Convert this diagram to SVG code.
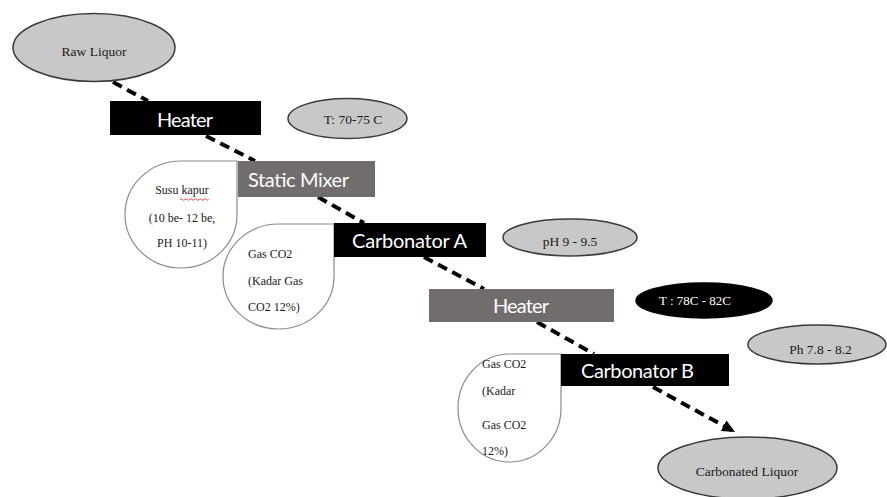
<svg xmlns="http://www.w3.org/2000/svg" width="887" height="497" viewBox="0 0 887 497">
<style>
.bg{fill:#ffffff}
.oval{fill:#c8c8c8;stroke:#3a3a3a;stroke-width:1.5}
.ovalk{fill:#000;stroke:#000;stroke-width:1.5}
.drop{fill:#fff;stroke:#8a8a8a;stroke-width:1.2}
.boxk{fill:#000}
.boxg{fill:#716d6c}
.lbl{font-family:Lato,"Open Sans","Liberation Sans",sans-serif;font-size:20px;fill:#fff;text-anchor:middle}
.sm{font-family:"Liberation Serif","DejaVu Serif",serif;font-size:13.5px;fill:#1a1a1a;text-anchor:middle}
.smw{font-family:"Liberation Serif","DejaVu Serif",serif;font-size:13px;fill:#fff;text-anchor:middle}
.dt{font-family:"Liberation Serif","DejaVu Serif",serif;font-size:12px;fill:#1a1a1a}
.dtc{text-anchor:middle}
.con{stroke:#000;stroke-width:4;stroke-dasharray:10,6;fill:none}
</style>
<defs>
<marker id="ah" markerWidth="14" markerHeight="12" refX="13" refY="6" orient="auto" markerUnits="userSpaceOnUse" viewBox="0 0 14 12">
<path d="M0,0 L13,6 L0,12 z" fill="#000"/>
</marker>
</defs>
<rect class="bg" x="0" y="0" width="887" height="497"/>

<g id="connectors">
<line class="con" x1="113" y1="82" x2="148" y2="101"/>
<line class="con" x1="206" y1="136" x2="255" y2="161"/>
<line class="con" x1="318" y1="197" x2="364" y2="223"/>
<line class="con" x1="424" y1="257" x2="484" y2="289"/>
<line class="con" x1="537" y1="322" x2="594" y2="354"/>
<line class="con" x1="653" y1="387" x2="735" y2="432" marker-end="url(#ah)"/>
</g>

<g id="raw-liquor">
<ellipse class="oval" cx="94" cy="47.5" rx="81" ry="34"/>
<text class="sm" x="94" y="56">Raw Liquor</text>
</g>

<g id="susu-kapur">
<path class="drop" d="M125 214.5 A56 53.5 0 0 1 181 161 L237 161 L237 214.5 A56 53.5 0 0 1 181 268 A56 53.5 0 0 1 125 214.5 Z"/>
<text class="dt dtc" x="182" y="194">Susu kapur</text>
<path d="M180 199.5 q1.2 -1.5 2.4 0 t2.4 0 t2.4 0 t2.4 0 t2.4 0 t2.4 0 t2.4 0 t2.4 0 t2.4 0 t2.4 0 t2.4 0 t2.4 0" fill="none" stroke="#e0303a" stroke-width="0.9"/>
<text class="dt dtc" x="182" y="222">(10 be- 12 be,</text>
<text class="dt dtc" x="182" y="247">PH 10-11)</text>
</g>

<g id="gas-co2-a">
<path class="drop" d="M223 276.5 A55.5 52.5 0 0 1 278.5 224 L334 224 L334 276.5 A55.5 52.5 0 0 1 278.5 329 A55.5 52.5 0 0 1 223 276.5 Z"/>
<text class="dt" x="248" y="258">Gas CO2</text>
<text class="dt" x="248" y="285">(Kadar Gas</text>
<text class="dt" x="248" y="311">CO2 12%)</text>
</g>

<g id="gas-co2-b">
<path class="drop" d="M458 408 A51.5 54 0 0 1 509.5 354 L561 354 L561 408 A51.5 54 0 0 1 509.5 462 A51.5 54 0 0 1 458 408 Z"/>
<text class="dt" x="482" y="368">Gas CO2</text>
<text class="dt" x="482" y="395">(Kadar</text>
<text class="dt" x="482" y="429">Gas CO2</text>
<text class="dt" x="482" y="455">12%)</text>
</g>

<g id="heater-1">
<rect class="boxk" x="110" y="101" width="151" height="34"/>
<text class="lbl" x="185" y="127" textLength="56">Heater</text>
</g>

<g id="temp-1">
<ellipse class="oval" cx="347.5" cy="118.5" rx="59.5" ry="20"/>
<text class="sm" x="353" y="124">T: 70-75 C</text>
</g>

<g id="static-mixer">
<rect class="boxg" x="238" y="161" width="137" height="36"/>
<text class="lbl" x="298.5" y="187" textLength="101">Static Mixer</text>
</g>

<g id="carbonator-a">
<rect class="boxk" x="334" y="223" width="152" height="34"/>
<text class="lbl" x="409.5" y="248" textLength="115">Carbonator A</text>
</g>

<g id="ph-1">
<ellipse class="oval" cx="570" cy="237.5" rx="67" ry="18.5"/>
<text class="sm" x="570" y="246">pH 9 - 9.5</text>
</g>

<g id="heater-2">
<rect class="boxg" x="429" y="289" width="185" height="33"/>
<text class="lbl" x="521" y="313" textLength="56">Heater</text>
</g>

<g id="temp-2">
<ellipse class="ovalk" cx="704" cy="300.5" rx="68" ry="17.5"/>
<text class="smw" x="695" y="305">T : 78C - 82C</text>
</g>

<g id="carbonator-b">
<rect class="boxk" x="561" y="354" width="168" height="32"/>
<text class="lbl" x="637.5" y="378" textLength="113">Carbonator B</text>
</g>

<g id="ph-2">
<ellipse class="oval" cx="817" cy="344.5" rx="69" ry="19.5"/>
<text class="sm" x="820.5" y="354">Ph 7.8 - 8.2</text>
</g>

<g id="carbonated-liquor">
<ellipse class="oval" cx="747.5" cy="468" rx="89.5" ry="31"/>
<text class="sm" x="747" y="476">Carbonated Liquor</text>
</g>
</svg>
